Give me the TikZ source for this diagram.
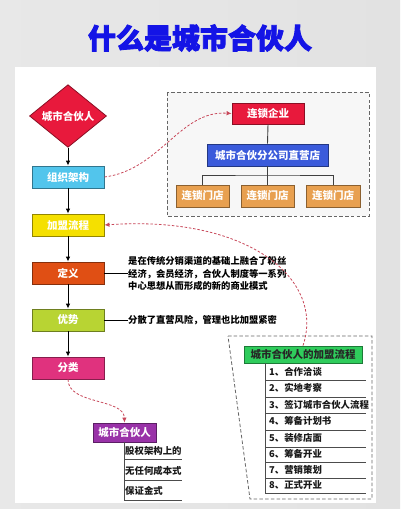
\documentclass[tikz,border=0pt]{standalone}
\usepackage{fontspec}
\setmainfont{Noto Sans CJK SC}
\newfontfamily\titlefont{Noto Sans CJK SC}[BoldFeatures={FakeBold=3}]
\usetikzlibrary{shapes.geometric,arrows.meta}
\definecolor{bgc}{HTML}{E2E2E2}
\definecolor{cdia}{HTML}{E8193C}
\definecolor{czz}{HTML}{52C5EC}
\definecolor{cjm}{HTML}{F5E000}
\definecolor{cdy}{HTML}{E04F14}
\definecolor{cys}{HTML}{B8D433}
\definecolor{cfl}{HTML}{E0327E}
\definecolor{cqy}{HTML}{E8193C}
\definecolor{cfg}{HTML}{3B5BDB}
\definecolor{cmd}{HTML}{E8A050}
\definecolor{cgr}{HTML}{2FCC5C}
\definecolor{cpp}{HTML}{9932A8}
\definecolor{ctitle}{HTML}{1414E6}
\definecolor{dred}{HTML}{C8485A}
\tikzset{
  box/.style={draw=#1!60!black, fill=#1, line width=0.8pt, inner sep=0pt, text=white,
    font=\fontsize{10.5}{12}\selectfont\bfseries},
  flowarrow/.style={draw=black, line width=0.9pt, -{Latex[length=5pt,width=4.5pt]}},
  reddash/.style={draw=dred, line width=0.8pt, dash pattern=on 2.5pt off 1.8pt},
  redtip/.style={-{Latex[length=5pt,width=4.5pt]}},
  graydash/.style={draw=black!60, line width=0.8pt, dash pattern=on 3.5pt off 2.2pt},
  orgline/.style={draw=black!75, line width=0.9pt},
  item/.style={anchor=west, inner sep=1pt, font=\fontsize{9.4}{11}\selectfont\bfseries, text=black!90},
  listline/.style={draw=black!70, line width=0.8pt},
}
\begin{document}
\begin{tikzpicture}[x=1pt,y=-1pt]
\useasboundingbox (0,0) rectangle (400,509);
\shade[left color=bgc!80!white, right color=bgc] (0,0) rectangle (400,509);
\fill[white] (15,67) rectangle (376,503);
% title
\node (title) at (200,38) {\titlefont\bfseries\fontsize{28}{30}\selectfont\color{ctitle}什么是城市合伙人};
% right top dashed frame
\draw[graydash, fill=black!3] (167,92) rectangle (369,216);
% right bottom dashed frame
\draw[graydash, fill=white] (228,336) -- (372,336) -- (372,499) -- (250,499) -- cycle;
% main flow
\node[box=cdia, shape=diamond, minimum width=77pt, minimum height=48pt] (dia) at (68,116) {城市合伙人};
\node[box=czz, minimum width=72pt, minimum height=22pt] (zz) at (68,177) {组织架构};
\node[box=cjm, minimum width=72pt, minimum height=22pt] (jm) at (68,225) {加盟流程};
\node[box=cdy, minimum width=72pt, minimum height=22pt] (dy) at (68,273) {定义};
\node[box=cys, minimum width=72pt, minimum height=22pt] (ys) at (68,320) {优势};
\node[box=cfl, minimum width=72pt, minimum height=22pt] (fl) at (68,368) {分类};
\draw[flowarrow] (dia.south) -- (zz.north);
\draw[flowarrow] (zz.south) -- (jm.north);
\draw[flowarrow] (jm.south) -- (dy.north);
\draw[flowarrow] (dy.south) -- (ys.north);
\draw[flowarrow] (ys.south) -- (fl.north);
% org chart
\node[box=cqy, minimum width=72pt, minimum height=21pt] (qy) at (268,113.5) {连锁企业};
\node[box=cfg, minimum width=121pt, minimum height=22pt] (fg) at (267.5,155) {城市合伙分公司直营店};
\node[box=cmd, minimum width=53pt, minimum height=22pt] (md1) at (202.5,196) {连锁门店};
\node[box=cmd, minimum width=53pt, minimum height=22pt] (md2) at (267.5,196) {连锁门店};
\node[box=cmd, minimum width=54pt, minimum height=22pt] (md3) at (333,196) {连锁门店};
\draw[orgline] (qy.south) -- (fg.north);
\coordinate (hub) at (267.5,175);
\draw[orgline] (fg.south) -- (hub);
\draw[orgline] (md1.north) |- (hub) -| (md3.north);
\draw[orgline] (hub) -- (md2.north);
% texts
\node[anchor=west, inner sep=0pt, align=left, font=\fontsize{9.3}{12.5}\selectfont\bfseries] (dytext) at (128,273.5)
  {是在传统分销渠道的基础上融合了粉丝\\经济，会员经济，合伙人制度等一系列\\中心思想从而形成的新的商业模式};
\node[anchor=west, inner sep=0pt, font=\fontsize{9.3}{12.5}\selectfont\bfseries] (ystext) at (128,320)
  {分散了直营风险，管理也比加盟紧密};
\draw[line width=0.9pt] (dy.east) -- (dy.east -| dytext.west);
\draw[line width=0.9pt] (ys.east) -- (ystext.west);
% green list
\node[box=cgr, text=black!85, minimum width=118pt, minimum height=17pt] (gr) at (303,354.5) {城市合伙人的加盟流程};
\draw[listline] (265,363) -- (265,493);
\foreach \y/\t in {372/1、合作洽谈, 388/2、实地考察, 405/3、签订城市合伙人流程, 421/4、筹备计划书, 438/5、装修店面, 454/6、筹备开业, 470/7、营销策划, 485/8、正式开业}{
  \node[item] at (268,\y) {\t};
}
\foreach \y in {380,397,413,430,447,462,478,493}{
  \draw[listline] (265,\y) -- (366,\y);
}
% purple list
\node[box=cpp, minimum width=63pt, minimum height=19pt] (pp) at (124.5,432.5) {城市合伙人};
\draw[listline] (124,442) -- (124,500);
\foreach \y/\t in {451/股权架构上的, 471/无任何成本式, 491/保证金式}{
  \node[item] at (124,\y) {\t};
}
\foreach \y in {459,480,500}{
  \draw[listline] (124,\y) -- (182,\y);
}
% red dashed connectors
\draw[reddash, redtip] (zz.east) .. controls (160,170) and (180,110) .. (qy.west);
\draw[reddash, redtip] (gr.north) .. controls (325,280) and (250,215) .. (jm.east);
\draw[reddash, redtip] (fl.south) .. controls (68,405) and (124,398) .. (pp.north);
\end{tikzpicture}
\end{document}
